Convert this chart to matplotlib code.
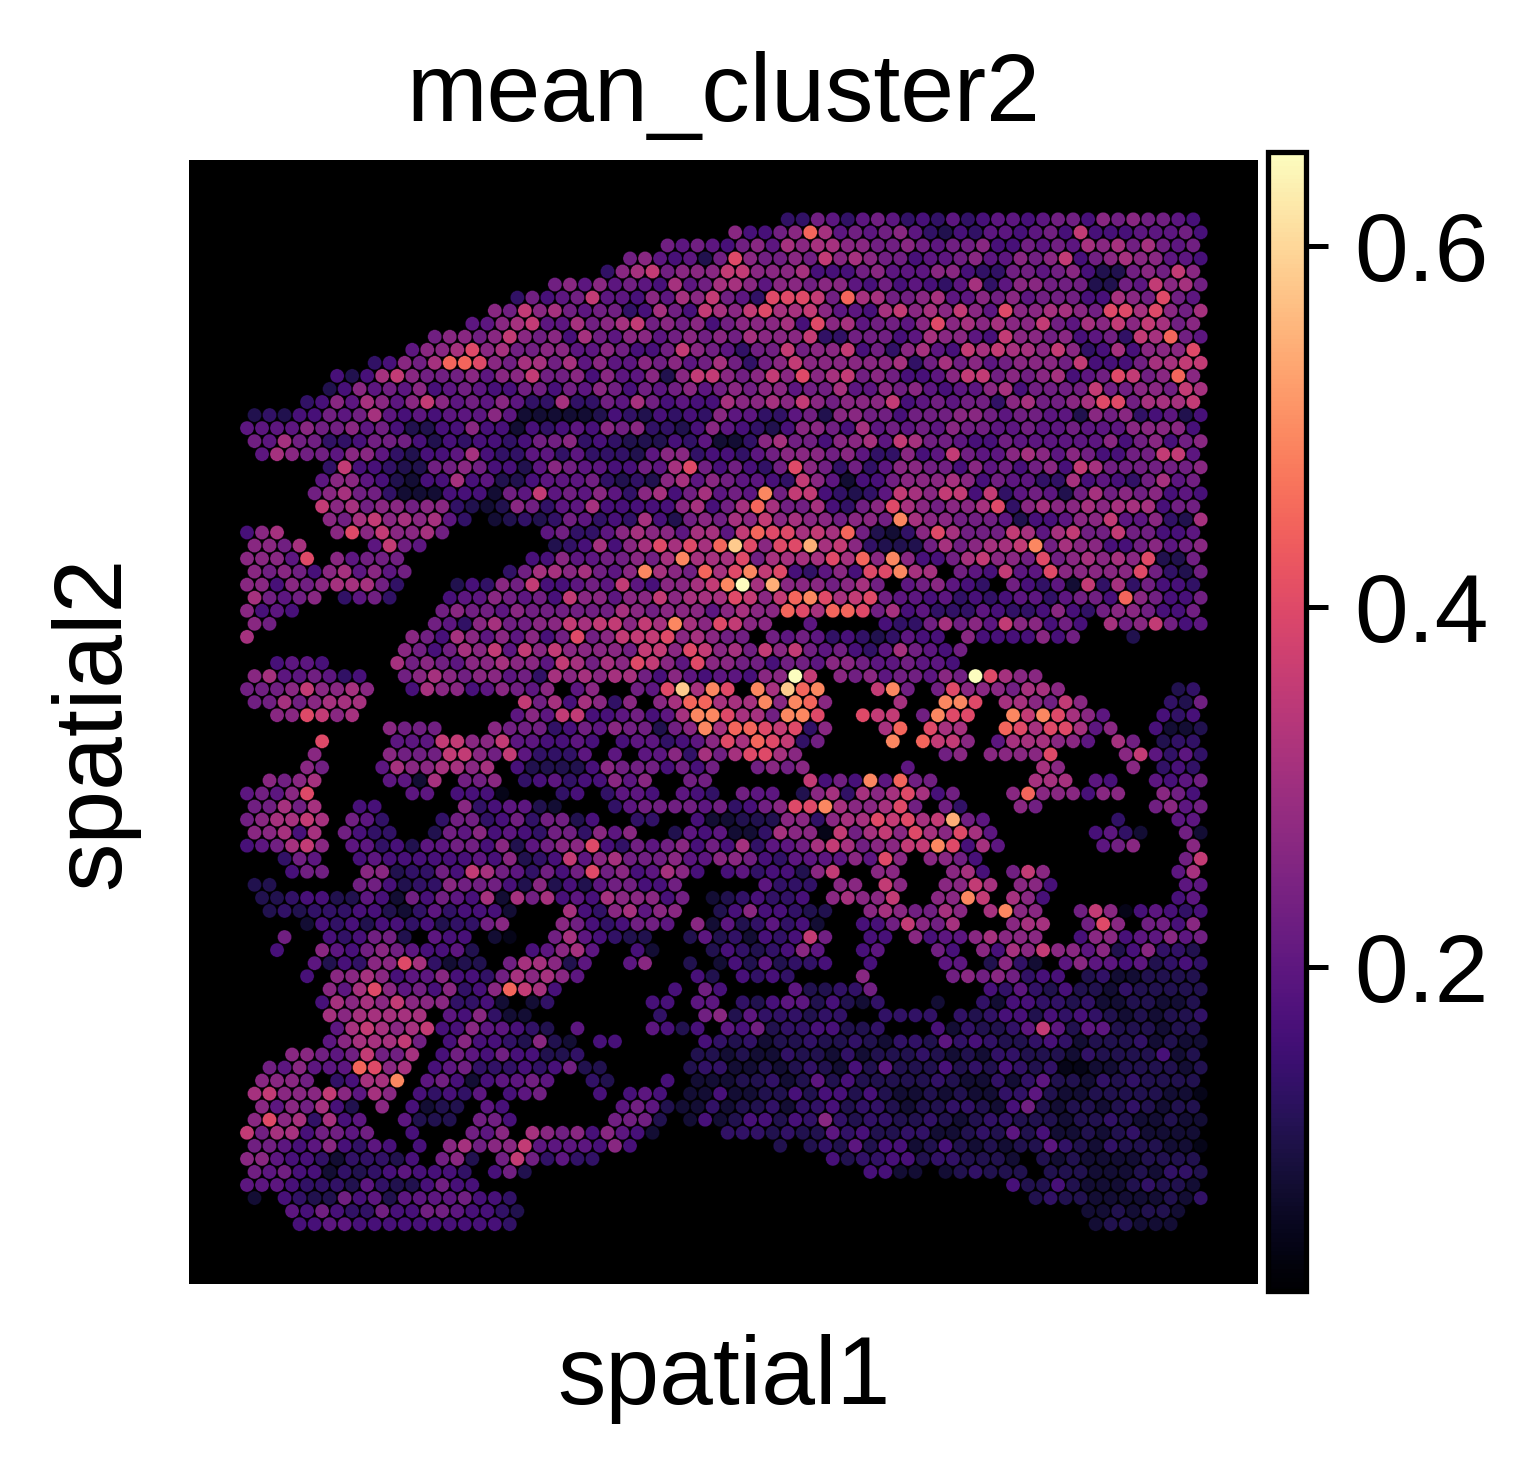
import numpy as np
import matplotlib
matplotlib.use("Agg")
import matplotlib.pyplot as plt

plt.rcParams['font.family'] = ['Liberation Sans', 'DejaVu Sans']

# value of every colour level used in the spot rows below
LEVEL_CHARS = "0123456789abcdef"
LEVEL_VALUES = [0.050, 0.082, 0.108, 0.133, 0.165, 0.196, 0.228, 0.266,
                0.310, 0.354, 0.399, 0.449, 0.494, 0.544, 0.582, 0.652]

# one entry per array row: (first spot index in the row, levels), '.' = no spot
SPOT_ROWS = [
    [(36, "3365356534353455456647676654")],
    [(32, "74467b85656753243554564944455564")],
    [(28, "656546758788776676566744656587868656")],
    [(25, "6754526a76676978766455675576794678" + "77554")],
    [(24, "3789677" + "799777844467555774336656742267697")],
    [(20, "6757565485" + "6887577677546454358357766622659786")],
    [(18, "3645695547587" + "9653aaa96b88667855767566644876a65")],
    [(16, "76978656634864" + "9879a889755489787975a778876aa8a768")],
    [(15, "5578955867896767" + "4677784a7856657a78787796587979867")],
    [(12, "677679767486577567" + "6768777933666458775497767456398b65")],
    [(11, "5778a786677557644697" + "653669677946378549898879734847" + "77a")],
    [(8, "34768bba768868575576" + "75" + "6863679777777836867567776944468899")],
    [(6, "4248976667577966747557279" + "976797a78967644579967678456a967b7")],
    [(5, "2475657456544664657646567" + "5676775668557675455784666696677698")],
    [(4, "347587579756575338336586454" + "487787976777945656637866 78aa68889".replace(" ", ""))],
    [(0, "232446568545455575111112432434" + "3755335627766466677656655276734524")],
    [(0, "5555766756422447441434547673324" + "754324776485656576655655655577774")],
    [(0, "658663346664243443466734322243" + "5113786647785986654465555557467467")],
    [(1, "587665775324458433553533325773" + "443567776753374596557875764466995")],
    [(5, "39443226676442576554465 8a".replace(" ", "") + "646436a763635776647564674986666667")],
    [(5, "57754214484522455563232785" + "765543975144677787465533845436856")],
    [(4, "67866311144416595657537846" + "8565c6994323598799493565268676" + "7454")],
    [(5, "97867767732127635584444478" + "468b86684367a876778a3787787888466")],
    [(5, "7689787853.123236534" + "38426" + "7687978776776c8776665244577955" + "7328")],
    [(0, "478"), (6, "7a797786"), (20, "56335787758" + "859baa898b62137a86669858966966445")],
    [(0, "7768"), (8, "5965"), (20, "2348478a8a" + "8bea7aad89732226867889c68774467567")],
    [(0, "7775a.75666"), (19, "4475566768c8" + "88a68888a8b7c744689776a678787a226")],
    [(0, "76764785756"), (17, "368878657c876" + "b8ac9a43574aac88.654955a77777a6326")],
    [(0, "77476788863"), (14, "24376944565954778" + "9cf8d7776786.567543.6435193836443")],
    [(0, "86567.3563"), (13, "45576564977577978" + "88a979bca89a6554534345535664b76446")],
    [(0, "7454"), (13, "676657666666876777" + "57877ba8bba684533354" + "3347436776446")],
    [(0, "76"), (12, "653786677989979" + "8c8" + "7a977..5....43368675977464.8679645")],
    [(0, "8"), (11, "76487575746a67999a78" + "766.656534323544.74444746...2")],
    [(10, "7646879597977776997a" + "978697965643586546")],
    [(2, "4554"), (10, "8676577877598687a975a" + "77664665776556554")],
    [(0, "78556534"), (10, "67876775638787886475" + "455477f9.767566576fa877")],
    [(0, "666797787"), (11, "4877457657.57..65ae8" + "ca.c8ebc...9c6.6a7776887"), (62, "23")],
    [(0, "66867888"), (18, "96848737.78b" + "b888c7cb7....8..cca.887697"), (61, "326")],
    [(2, "77a978"), (18, "575994456458c" + "ca886cca..a99.6caa..c9ca875...434")],
    [(9, "7666...76663465766267" + "c8bba9a37...8b.a88..ba8aa857..4112")],
    [(5, "a"), (10, "55599779554454.455345" + "7a8ba936....c.b997.5888775.86.233")],
    [(4, "7"), (9, "76669976953335.5.5573" + "868aa87"), (46, "67.7777a"), (58, "795353")],
    [(4, "76"), (9, "58778878.4222247666464" + "6..6767"), (44, "5"), (53, "87....7.343")],
    [(1, "7678"), (9, "5518.667.345344757..6" + "6"), (37, "9464c5b66"), (52, "888.54..5456")],
    [(0, "5657a"), (11, "55.4440"), (21, "34.3554.54" + "3.655.2783878a846...7b777477..764")],
    [(0, "66868..44"), (14, "7345521"), (24, "356666" + "563467aac8778a6.63...76"), (60, "6756")],
    [(0, "678898.653"), (13, "36634636624..33..4" + "11222773788a9a89d65"), (58, "3...55")],
    [(0, "77848.6433..26574543663757..25" + "45113877096897a87a85"), (56, "4531..61")],
    [(0, "456897.5534255664725677a4365674" + "648355689867799ca485"), (57, "567...7")],
    [(2, "365..45444444547234957866675" + "577643555575a7.7764"), (62, "69")],
    [(3, "466..772336498653646a6745874" + ".45344279..77...784.697"), (62, "58")],
    [(0, "22"), (7, "6642337666427242566446"), (34, "5333.77.97..7798.774"), (62, "55")],
    [(1, "22344225416465481868454877746" + ".1234334.78779..77c9.874"), (62, "45")],
    [(1, "23233344213534441"), (21, "84378577..24744322..7876687.8c77..697045434")],
    [(4, "14342443423367"), (21, "76434665.715235341..4469768...788..6a7.6647")],
    [(2, "6..434662.544.10"), (20, "6854322..2523143496..44.745578777..477455756")],
    [(2, "4..75467654452"), (19, "45785..41"), (31, "24323475..45...64.748797757247332")],
    [(4, "524377a83122.688725..57..2.14252334..4....55.2731.5755452343")],
    [(4, "4.77874557443687875"), (30, "42.4343....7.....67676344.23112222")],
    [(5, "758a75647347b984"), (28, "4.64....522336"), (49, "435324221322222")],
    [(5, "4878797773341.13"), (27, "44.55.3245524213...1..314433231122112")],
    [(5, "8788888.547311"), (27, "3..6725333233..3333.32344243432121223")],
    [(6, "589878944755432.5"), (27, "5424.54623344223...413223595255222122")],
    [(5, "5788896.474432721.44"), (30, "4323122322321332534322343122231211")],
    [(3, "776569668.4654644223"), (30, "2" + "212113221312223212133222132222412")],
    [(1, "657555ba78.456333434622"), (29, "2" + "3311212321425222423243230011222212")],
    [(1, "7776.3488c.564145565..32...4.1" + "112231252422222321131352213232222")],
    [(0, "8977797587.43435.456...4.454.1" + "1411224244242112121133521122222110")],
    [(1, "7576842.7.4122.54"), (25, "565211" + "312231334233212233214621221232122")],
    [(0, "7a783845..5222.664"), (24, "6662.1" + "4124424373233223212332221223211211")],
    [(0, "968846656..4...657.876747541"), (32, "33323225342233112325241121231111")],
    [(0, "6654574354.4.7867795555474"), (35, "2.23252441242121225321" + "3222110")],
    [(0, "775443133324.672.6963533"), (39, "4233442332221.21211112222")],
    [(0, "656441323454443.462"), (41, "4411.123222.22211121332")],
    [(0, "5554333253224644"), (51, "4224211123221")],
    [(0, "1.4322645255556443"), (52, "232211111213")],
    [(3, "5464336446654432"), (56, "1121221")],
    [(3, "445544444444443"), (56, "122111")],
]

COLORBAR_TICKS = [0.2, 0.4, 0.6]
VMIN, VMAX = 0.0205, 0.652


def spots_from_rows(rows):
    xs, ys, vals = [], [], []
    for r, segments in enumerate(rows):
        for start, levels in segments:
            for k, ch in enumerate(levels):
                if ch == '.':
                    continue
                xs.append(2 * (start + k) + r % 2)
                ys.append(r)
                vals.append(LEVEL_VALUES[LEVEL_CHARS.index(ch)])
    return np.array(xs), np.array(ys), np.array(vals)


W, H = 1539, 1474
fig = plt.figure(figsize=(W / 400, H / 400), dpi=400)
ax = fig.add_axes([189 / W, 1 - 1284 / H, (1258 - 189) / W, (1284 - 160) / H])
ax.set_facecolor('k')

x, y, v = spots_from_rows(SPOT_ROWS)
sc = ax.scatter(x, y, c=v, s=6.5, cmap='magma', vmin=VMIN, vmax=VMAX,
                edgecolors='k', linewidths=0.06)

# array column / row to pixel: x = 247 + 7.51 c, y = 219.3 + 13.05 r
ax.set_xlim((189 - 247) / 7.51, (1258 - 247) / 7.51)
ax.set_ylim((1284 - 219.3) / 13.05, (160 - 219.3) / 13.05)
ax.set_xticks([])
ax.set_yticks([])
for s in ax.spines.values():
    s.set_visible(False)

ax.set_title("mean_cluster2", fontsize=17.4, pad=7)
ax.set_xlabel("spatial1", fontsize=17.4, labelpad=9)
ax.set_ylabel("spatial2", fontsize=17.4, labelpad=9)

cax = fig.add_axes([1268 / W, 1 - 1291 / H, 37.5 / W, (1291 - 152.3) / H])
cb = fig.colorbar(sc, cax=cax)
cb.set_ticks(COLORBAR_TICKS)
cb.ax.tick_params(labelsize=17.4, width=0.9, length=4.0, pad=4.8)
cb.outline.set_linewidth(0.95)

fig.savefig("out.png", dpi=400)
